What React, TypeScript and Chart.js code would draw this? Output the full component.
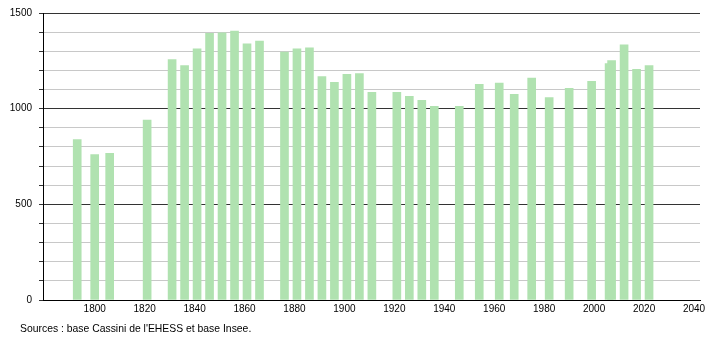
import React, { useEffect, useRef } from "react";
import { Chart, registerables } from "chart.js";

Chart.register(...registerables);

const years = [
  1793, 1800, 1806, 1821, 1831, 1836, 1841, 1846, 1851, 1856, 1861, 1866,
  1876, 1881, 1886, 1891, 1896, 1901, 1906, 1911, 1921, 1926, 1931, 1936,
  1946, 1954, 1962, 1968, 1975, 1982, 1990, 1999, 2006, 2007, 2012, 2017, 2022,
];
const population = [
  839, 760, 767, 941, 1256, 1225, 1313, 1394, 1396, 1406, 1339, 1353,
  1296, 1313, 1318, 1168, 1137, 1179, 1184, 1086, 1086, 1065, 1044, 1012,
  1012, 1127, 1134, 1075, 1160, 1058, 1106, 1143, 1236, 1251, 1334, 1205, 1225,
];
const xTickYears = [1800, 1820, 1840, 1860, 1880, 1900, 1920, 1940, 1960, 1980, 2000, 2020, 2040];
const sourceText = "Sources : base Cassini de l'EHESS et base Insee.";

const FONT = "'Liberation Sans', Arial, sans-serif";

export default function App() {
  const ref = useRef<HTMLCanvasElement | null>(null);

  useEffect(() => {
    if (!ref.current) return;
    const chart = new Chart(ref.current, {
      type: "bar",
      data: {
        datasets: [
          {
            data: years.map((y, i) => ({ x: y, y: population[i] })),
            backgroundColor: "#b0e2b0",
            borderWidth: 0,
            barThickness: 8,
          },
        ],
      },
      options: {
        animation: false,
        responsive: false,
        devicePixelRatio: 1,
        layout: { padding: { left: 0, right: 10, top: 11, bottom: 0 } },
        plugins: { legend: { display: false }, tooltip: { enabled: false }, title: { display: false } },
        scales: {
          x: {
            type: "linear",
            offset: false,
            min: 1779.3,
            max: 2042.4,
            afterBuildTicks: (scale: any) => {
              scale.ticks = xTickYears.map((v) => ({ value: v }));
            },
            afterFit: (scale: any) => {
              scale.height = 40;
            },
            grid: { display: true, offset: false, drawOnChartArea: false, drawTicks: false },
            border: { display: true, color: "#000", width: 1 },
            ticks: {
              autoSkip: false,
              maxRotation: 0,
              minRotation: 0,
              padding: 3,
              color: "#000",
              font: { family: FONT, size: 10 },
              callback: (v: any) => String(v),
            },
          },
          y: {
            min: 0,
            max: 1500,
            afterFit: (scale: any) => {
              scale.width = 43;
            },
            grid: {
              color: (ctx: any) => (ctx.tick && ctx.tick.value % 500 === 0 ? "#333333" : "#c8c8c8"),
              tickColor: "#333333",
              tickLength: 4,
              lineWidth: 1,
            },
            border: { display: true, color: "#000", width: 1 },
            ticks: {
              stepSize: 100,
              padding: 7,
              color: "#000",
              font: { family: FONT, size: 10 },
              callback: (v: any) => (Number(v) % 500 === 0 ? String(v) : ""),
            },
          },
        },
      },
    });
    return () => chart.destroy();
  }, []);

  return (
    <div style={{ position: "fixed", left: 0, top: 0, width: 710, height: 340, background: "#fff" }}>
      <canvas ref={ref} width={710} height={340} style={{ display: "block" }} />
      <div
        style={{
          position: "absolute",
          left: 20,
          top: 323,
          fontFamily: FONT,
          fontSize: 10.4,
          lineHeight: "12px",
          color: "#000",
          whiteSpace: "nowrap",
        }}
      >
        {sourceText}
      </div>
    </div>
  );
}
